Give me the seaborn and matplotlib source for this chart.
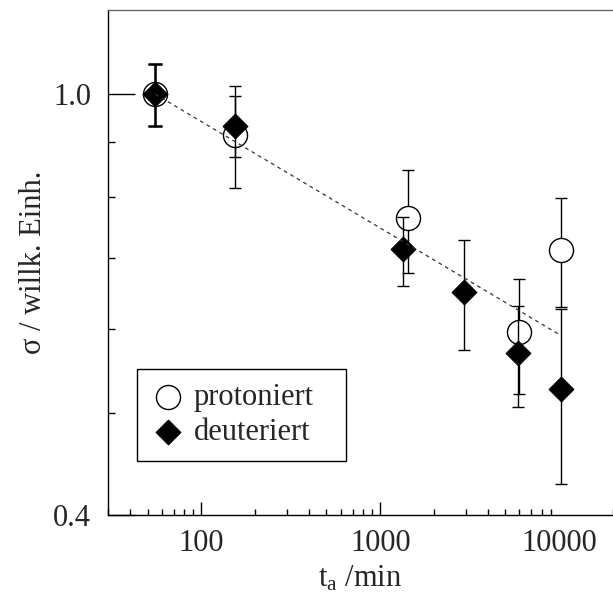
import numpy as np
import pandas as pd
import matplotlib
matplotlib.use('Agg')
import matplotlib.pyplot as plt
import seaborn as sns
from matplotlib.ticker import FixedLocator, LogLocator, NullFormatter

# protoniert (offene Kreise)
t_prot = [55, 155, 1430, 6000, 10300]
sig_prot = [1.0, 0.915, 0.763, 0.596, 0.712]
hi_prot = [1.067, 1.018, 0.848, 0.669, 0.797]
lo_prot = [0.933, 0.815, 0.677, 0.521, 0.629]

# deuteriert (gefuellte Rauten)
t_deut = [55, 155, 1340, 2930, 5900, 10300]
sig_deut = [1.0, 0.933, 0.714, 0.650, 0.569, 0.526]
hi_deut = [1.067, 0.996, 0.765, 0.728, 0.630, 0.626]
lo_deut = [0.933, 0.872, 0.658, 0.573, 0.506, 0.428]

# Anpassung (Potenzgesetz, Endpunkte)
fit_t = [55, 10100]
fit_sig = [1.0, 0.592]

df_p = pd.DataFrame({'t': t_prot, 'sig': sig_prot, 'hi': hi_prot, 'lo': lo_prot})
df_d = pd.DataFrame({'t': t_deut, 'sig': sig_deut, 'hi': hi_deut, 'lo': lo_deut})

sns.set_style("ticks")
plt.rcParams['font.family'] = ['Liberation Serif', 'DejaVu Serif']
plt.rcParams['font.size'] = 22

fig = plt.figure(figsize=(6.13, 6.01), dpi=100)
ax = fig.add_axes([0.176, 0.143, 0.824, 0.840])


def bars(d, z, lw_first=1.0):
    # erster Punkt etwas dicker, wie im Original
    err = [d['sig'] - d['lo'], d['hi'] - d['sig']]
    ax.errorbar(d['t'][1:], d['sig'][1:], yerr=[err[0][1:], err[1][1:]],
                fmt='none', ecolor='black', elinewidth=1.0, capsize=4, capthick=1.0, zorder=z)
    ax.errorbar(d['t'][:1], d['sig'][:1], yerr=[err[0][:1], err[1][:1]],
                fmt='none', ecolor='black', elinewidth=lw_first, capsize=5, capthick=lw_first, zorder=z)


bars(df_p, 2)
sns.scatterplot(x='t', y='sig', data=df_p, marker='o', s=300, facecolor='white', edgecolor='black',
                linewidth=1.0, zorder=3, label='protoniert', ax=ax)

bars(df_d, 4, lw_first=1.8)
sns.scatterplot(x='t', y='sig', data=df_d, marker='D', s=165, color='black', edgecolor='black',
                linewidth=0.5, zorder=5, label='deuteriert', ax=ax)

sns.lineplot(x=fit_t, y=fit_sig, color='#333333', lw=0.9, dashes=False, linestyle=(0, (3, 3)),
             zorder=6, ax=ax)

ax.set_xscale('log')
ax.set_yscale('log')
ax.set_xlim(30, 20000)
ax.set_ylim(0.4, 1.2)

ax.xaxis.set_major_locator(FixedLocator([100, 1000, 10000]))
ax.set_xticklabels(['100', '1000', '10000'])
ax.xaxis.set_minor_locator(LogLocator(base=10, subs=np.arange(2, 10)))
ax.xaxis.set_minor_formatter(NullFormatter())

ax.yaxis.set_major_locator(FixedLocator([0.4, 1.0]))
ax.set_yticklabels(['0.4', '1.0'])
ax.yaxis.set_minor_locator(FixedLocator([0.5, 0.6, 0.7, 0.8, 0.9]))
ax.yaxis.set_minor_formatter(NullFormatter())

ax.tick_params(axis='both', which='both', direction='in', top=False, right=False,
               labelsize=22, color='black')
ax.tick_params(axis='y', which='major', length=19.5, width=1.0, pad=12)
ax.tick_params(axis='y', which='minor', length=5, width=1.0)
ax.tick_params(axis='x', which='major', length=9.5, width=1.0, pad=10)
ax.tick_params(axis='x', which='minor', length=4.3, width=1.0)
ax.xaxis.get_major_ticks()[2].tick1line.set_visible(False)

for side in ['left', 'bottom']:
    ax.spines[side].set_color('black')
    ax.spines[side].set_linewidth(1.0)
ax.spines['top'].set_color('#666666')
ax.spines['top'].set_linewidth(1.0)
ax.spines['right'].set_visible(False)

ax.set_xlabel(r'$\mathregular{t_a}$ /min', fontsize=22, labelpad=4)
ax.set_ylabel('σ / willk. Einh.', fontsize=22, labelpad=4)

leg = ax.legend(loc='lower left', bbox_to_anchor=(0.057, 0.107, 0.414, 0.19), mode='expand',
                borderaxespad=0, fancybox=False, edgecolor='black', framealpha=1, fontsize=22,
                handletextpad=0.23, handlelength=1.18, borderpad=0.45, labelspacing=0.2)
leg.get_frame().set_linewidth(1.0)

plt.savefig('out.png', dpi=100)
